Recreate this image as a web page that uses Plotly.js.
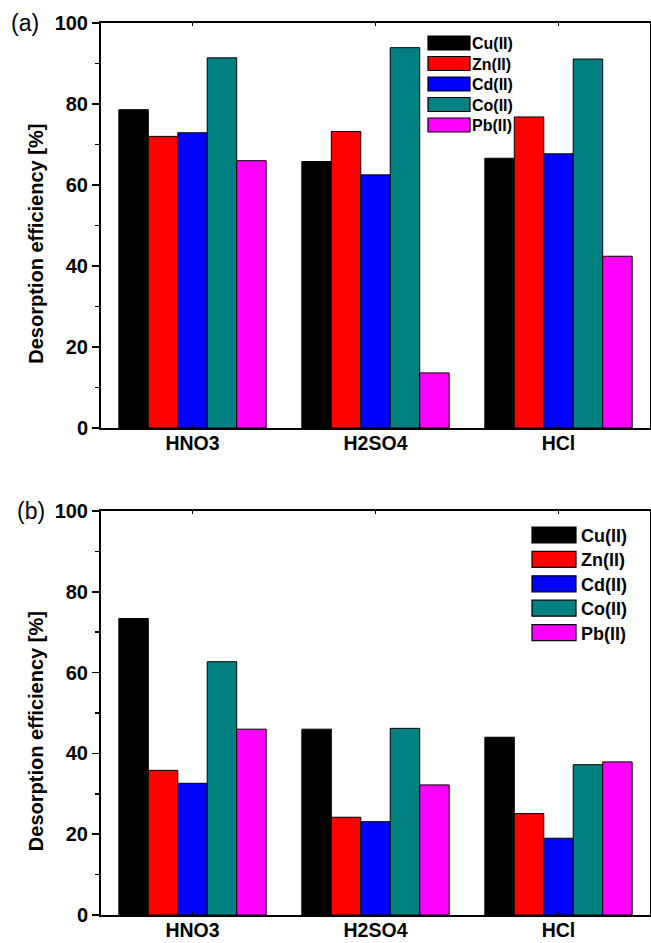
<!DOCTYPE html>
<html><head><meta charset="utf-8">
<script src="https://cdn.plot.ly/plotly-3.0.1.min.js"></script>
<style>html,body{margin:0;padding:0;background:#fff;}#chart{width:651px;height:943px;}</style>
</head><body><div id="chart"></div>
<script>
// ---- data ----
const categories = ['HNO3', 'H2SO4', 'HCl'];
const ions = ['Cu(II)', 'Zn(II)', 'Cd(II)', 'Co(II)', 'Pb(II)'];
const colors = ['#000000', '#FF0000', '#0000FF', '#008080', '#FF00FF'];

// panel (a)
const cuA = [78.6, 65.8, 66.6];
const znA = [72.0, 73.2, 76.8];
const cdA = [72.9, 62.5, 67.7];
const coA = [91.4, 93.9, 91.1];
const pbA = [66.0, 13.6, 42.4];

// panel (b)
const cuB = [73.4, 46.0, 44.0];
const znB = [35.8, 24.2, 25.1];
const cdB = [32.6, 23.1, 19.0];
const coB = [62.7, 46.2, 37.2];
const pbB = [46.0, 32.2, 37.9];

const panelLabels = ['(a)', '(b)'];
const yTitle = 'Desorption efficiency [%]';

// ---- build ----
const FONT = 'Arial, "Liberation Sans", sans-serif';
const seriesA = [cuA, znA, cdA, coA, pbA];
const seriesB = [cuB, znB, cdB, coB, pbB];

const traces = [];
seriesA.forEach((vals, i) => traces.push({
  type: 'bar', x: categories, y: vals, name: ions[i],
  marker: {color: colors[i], line: {color: '#000', width: 1}},
  xaxis: 'x', yaxis: 'y', legend: 'legend', hoverinfo: 'none'
}));
seriesB.forEach((vals, i) => traces.push({
  type: 'bar', x: categories, y: vals, name: ions[i],
  marker: {color: colors[i], line: {color: '#000', width: 1}},
  xaxis: 'x2', yaxis: 'y2', legend: 'legend2', hoverinfo: 'none'
}));

function xAx(anchor) {
  return {
    anchor: anchor, domain: [0, 1], type: 'category', range: [-0.5, 2.5],
    showline: true, linewidth: 2, linecolor: '#000', mirror: 'ticks',
    ticks: 'inside', ticklen: 3, tickwidth: 1, tickcolor: '#000',
    ticklabelstandoff: -3,
    tickfont: {family: FONT, size: 19.5, weight: 'bold', color: '#000'},
    showgrid: false, zeroline: false, fixedrange: true
  };
}
function yAx(anchor, domain) {
  return {
    anchor: anchor, domain: domain, range: [0, 100], tick0: 0, dtick: 20,
    showline: true, linewidth: 2, linecolor: '#000', mirror: true,
    ticks: 'outside', ticklen: 7, tickwidth: 1.5, tickcolor: '#000',
    minor: {tick0: 0, dtick: 10, ticks: 'outside', ticklen: 4, tickwidth: 1.5, tickcolor: '#000', showgrid: false},
    tickfont: {family: FONT, size: 20, weight: 'bold', color: '#000'},
    showgrid: false, zeroline: false, fixedrange: true
  };
}

function yTitleAnn(yref) {
  return {text: yTitle, xref: 'paper', yref: yref, x: -0.1184, y: 0.455,
          xanchor: 'center', yanchor: 'middle', textangle: -90, showarrow: false,
          font: {family: FONT, size: 20, weight: 'bold', color: '#000'}};
}

const layout = {
  width: 651, height: 943,
  margin: {l: 101, r: 1, t: 23, b: 28},
  paper_bgcolor: '#fff', plot_bgcolor: '#fff',
  barmode: 'group', bargap: 0.195, bargroupgap: 0,
  font: {family: FONT, color: '#000'},
  xaxis: xAx('y'),
  yaxis: yAx('x', [0.546, 1]),
  xaxis2: xAx('y2'),
  yaxis2: yAx('x2', [0, 0.4529]),
  showlegend: true,
  legend: {x: 0.6, y: 1, xanchor: 'left', yanchor: 'top', bgcolor: 'rgba(0,0,0,0)',
           font: {family: FONT, size: 16, weight: 'bold', color: '#000'}, traceorder: 'normal'},
  legend2: {x: 0.75, y: 0.45, xanchor: 'left', yanchor: 'top', bgcolor: 'rgba(0,0,0,0)',
            font: {family: FONT, size: 18, weight: 'bold', color: '#000'}, traceorder: 'normal'},
  annotations: [
    {text: panelLabels[0], xref: 'paper', yref: 'paper', x: -0.138, y: 1.0, xanchor: 'center', yanchor: 'middle',
     showarrow: false, font: {family: FONT, size: 23, color: '#000'}},
    {text: panelLabels[1], xref: 'paper', yref: 'paper', x: -0.127, y: 0.4529, xanchor: 'center', yanchor: 'middle',
     showarrow: false, font: {family: FONT, size: 23, color: '#000'}},
    yTitleAnn('y domain'),
    yTitleAnn('y2 domain')
  ]
};

// legend geometry (pixels): swatch centre x, width, height, first row y, row gap, text start x
const legendSpecs = {
  legend:  {cx: 449, w: 42, h: 14, y0: 43, gap: 20.5, tx: 472},
  legend2: {cx: 554, w: 44, h: 16, y0: 535, gap: 24.4, tx: 581}
};

function parseTranslate(s) {
  const m = /translate\(\s*([-\d.e]+)[ ,]+([-\d.e]+)\s*\)/.exec(s || '');
  return m ? [parseFloat(m[1]), parseFloat(m[2])] : [0, 0];
}

function placeLegends(gd) {
  const gdRect = gd.getBoundingClientRect();
  Object.keys(legendSpecs).forEach(cls => {
    const sp = legendSpecs[cls];
    const lg = gd.querySelector('.infolayer > g.' + cls);
    if (!lg) return;
    lg.querySelectorAll('[clip-path]').forEach(el => el.removeAttribute('clip-path'));
    lg.querySelectorAll('g.traces').forEach((tr, i) => {
      // offset of the item's own text from the item origin
      let off = 40;
      const t = tr.querySelector('text');
      if (t) {
        const c0 = tr.getCTM();
        const r = t.getBoundingClientRect();
        if (r.width > 0) off = (r.left - gdRect.left) - c0.e;
      }
      const ox = sp.tx - off;                 // new origin x so text starts at tx
      const oy = sp.y0 + i * sp.gap;           // row centre
      const ctm = tr.getCTM();
      const [a, b] = parseTranslate(tr.getAttribute('transform'));
      tr.setAttribute('transform', 'translate(' + (a + ox - ctm.e) + ',' + (b + oy - ctm.f) + ')');
      tr.querySelectorAll('g.legendpoints path').forEach(p => {
        p.setAttribute('d', 'M' + sp.w / 2 + ',' + sp.h / 2 + 'H' + (-sp.w / 2) + 'V' + (-sp.h / 2) + 'H' + sp.w / 2 + 'Z');
        p.setAttribute('transform', 'translate(' + (sp.cx - ox) + ',0)');
        p.style.strokeWidth = '1.2px';
        p.style.stroke = '#000';
      });
    });
  });
}

const gd = document.getElementById('chart');
Plotly.newPlot(gd, traces, layout, {staticPlot: true, displayModeBar: false}).then(placeLegends);
</script>
</body></html>
